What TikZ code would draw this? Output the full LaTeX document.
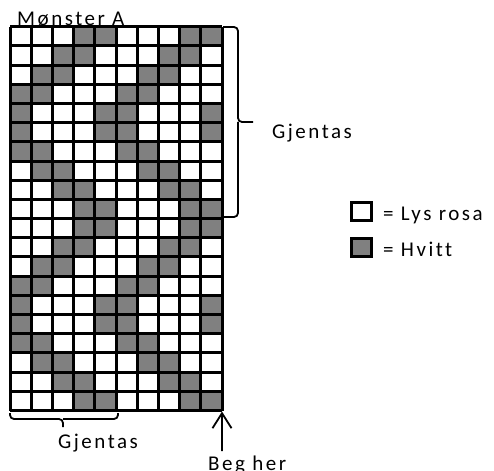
\documentclass[tikz,border=0pt]{standalone}
\usepackage{fontspec}
\setmainfont{Carlito}[LetterSpace=12, Ligatures=NoCommon]
\usepackage{xcolor}
\usepackage{tikz}
\usetikzlibrary{arrows.meta}

\definecolor{patgray}{HTML}{808080}

\begin{document}
\begin{tikzpicture}[x=1pt,y=-1pt,
  label text/.style={anchor=base west, inner sep=0pt, font=\fontsize{21}{25}\selectfont},
  brace line/.style={line width=1.8pt, rounded corners=4pt},
  key box/.style={draw, line width=3pt, minimum width=20pt, minimum height=18pt, inner sep=0pt}]
\useasboundingbox (0,0) rectangle (494,470);

% pattern grid, 10 columns by 20 rows
\begin{scope}[shift={(10,26.7)}, x=21.2pt, y=-19.19pt]
\foreach \s [count=\r] in {3,2,1,0,4,4,0,1,2,3,3,2,1,0,4,4,0,1,2,3} {
  \foreach \c in {1,...,10} {
    \pgfmathtruncatemacro{\m}{mod(\c-1-\s+10,5)}
    \ifnum\m<2
      \fill[patgray] (\c-1,\r-1) rectangle (\c,\r);
    \fi
  }
}
\foreach \c in {0,...,10} \draw[line width=3pt] (\c,0) -- (\c,20);
\foreach \r in {0,...,20} \draw[line width=3pt] (0,\r) -- (10,\r);
\coordinate (start) at (10,20);
\end{scope}

\node[label text] (title) at (17,26) {Mønster A};

% repeats
\draw[brace line] (223,27) -| (238,122) -- (253,122);
\draw[brace line] (223,217) -| (238,122);
\node[label text] (rep right) at (272,139) {Gjentas};

\draw[brace line] (10,413) |- (63,419) -- (63,427);
\draw[brace line] (118,413) |- (63,419);
\node[label text] (rep bottom) at (58,448) {Gjentas};

% start here
\node[label text] (beg) at (208,470) {Beg her};
\coordinate (tail) at (222,451);
\draw[line width=1.8pt, -{Straight Barb[length=15pt,width=19pt,line width=1.8pt]}] (tail) -- ([yshift=-1pt]start);

% key
\node[key box, fill=white] (key pink) at (361.5,211) {};
\node[key box, fill=patgray] (key white) at (361.5,247) {};
\node[label text] (txt pink) at (383,220) {= Lys rosa};
\node[label text] (txt white) at (383,256) {= Hvitt};
\end{tikzpicture}
\end{document}
